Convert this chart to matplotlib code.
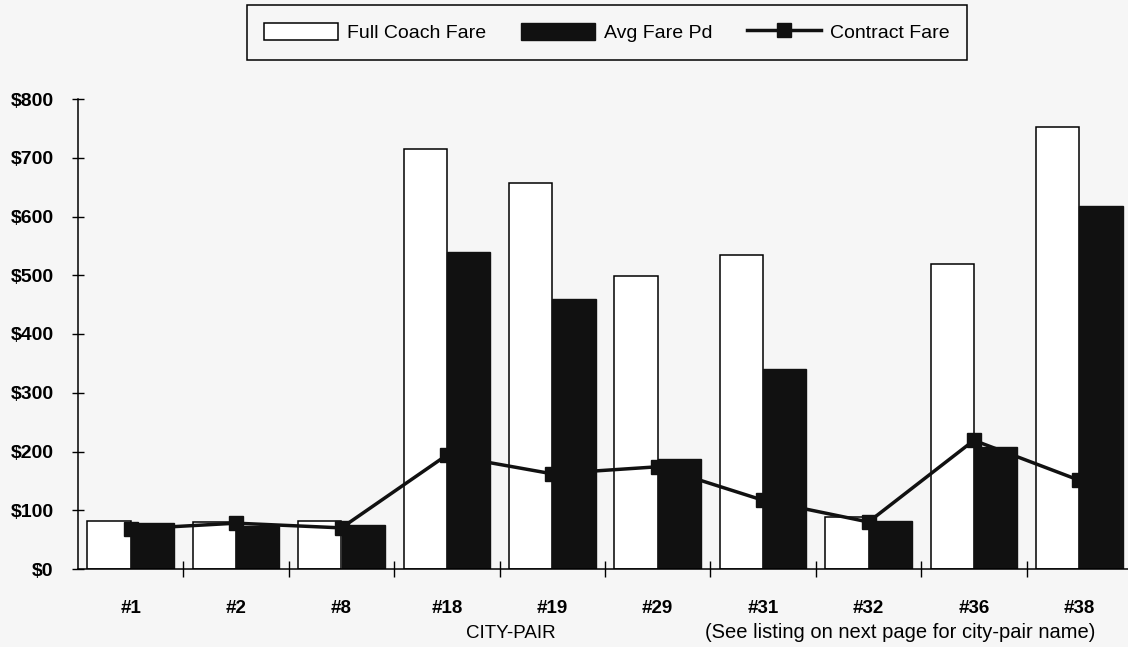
import matplotlib
matplotlib.use("Agg")
import matplotlib.pyplot as plt
import numpy as np

# city-pair fares
pairs = ["#1", "#2", "#8", "#18", "#19", "#29", "#31", "#32", "#36", "#38"]
full_coach = [82, 80, 82, 715, 657, 498, 535, 88, 520, 752]
avg_fare = [78, 74, 75, 540, 459, 187, 341, 82, 207, 618]
contract = [68, 78, 70, 194, 162, 174, 117, 80, 219, 151]

plt.rcParams['font.family'] = ['Liberation Sans', 'DejaVu Sans']

bg = '#f6f6f6'
fig = plt.figure(figsize=(11.28, 6.47), dpi=100, facecolor=bg)
ax = fig.add_axes([78 / 1128, 78 / 647, 1054 / 1128, 470 / 647])
ax.set_facecolor(bg)

x = np.arange(len(pairs))
w = 0.41
b1 = ax.bar(x - w / 2, full_coach, w, color='white', edgecolor='black', linewidth=1.1,
            label='Full Coach Fare', zorder=2)
b2 = ax.bar(x + w / 2, avg_fare, w, color='#111111', edgecolor='#111111', linewidth=1,
            label='Avg Fare Pd', zorder=2)
ln, = ax.plot(x, contract, color='#111111', linewidth=2.5, marker='s', markersize=10,
              label='Contract Fare', zorder=3)

ax.set_xlim(-0.5, 9.5)
ax.set_ylim(0, 800)
ax.set_yticks(np.arange(0, 801, 100))
ax.set_yticklabels(['$%d' % v for v in range(0, 801, 100)], fontsize=14, fontweight='bold')
ax.tick_params(axis='y', direction='inout', length=9, width=1, pad=13)

ax.set_xticks(x)
ax.set_xticklabels(pairs, fontsize=13.5, fontweight='bold')
ax.tick_params(axis='x', which='major', length=0, pad=22)
ax.set_xticks(x[:-1] + 0.5, minor=True)
ax.tick_params(axis='x', which='minor', direction='inout', length=12, width=1)

for s in ['top', 'right']:
    ax.spines[s].set_visible(False)
for s in ['left', 'bottom']:
    ax.spines[s].set_linewidth(1.1)

fig.text(511 / 1128, 1 - 633 / 647, 'CITY-PAIR', fontsize=13.5, ha='center', va='center')
fig.text(900 / 1128, 1 - 633 / 647, '(See listing on next page for city-pair name)',
         fontsize=14.5, ha='center', va='center')

leg = fig.legend([b1, b2, ln], ['Full Coach Fare', 'Avg Fare Pd', 'Contract Fare'],
                 loc='center', bbox_to_anchor=(607 / 1128, 1 - 32.5 / 647), ncol=3,
                 fontsize=14, frameon=True, fancybox=False, edgecolor='black',
                 facecolor=bg, framealpha=1, borderpad=0.9, handlelength=3.8,
                 handleheight=1.0, handletextpad=0.46, columnspacing=1.8,
                 numpoints=1, markerscale=1.0)
leg.get_frame().set_linewidth(1.1)

fig.savefig('out.png', dpi=100, facecolor=bg)
